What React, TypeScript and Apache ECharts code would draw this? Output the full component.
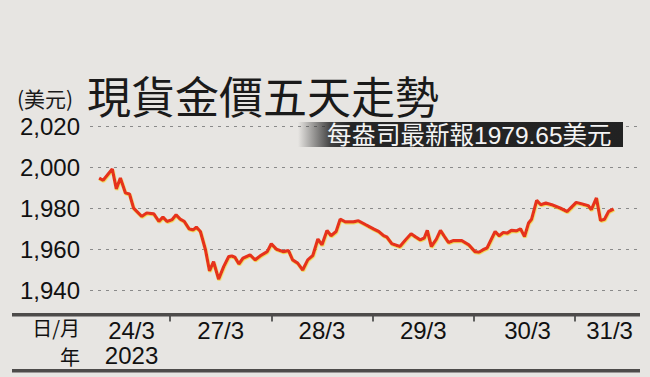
import React, { useEffect, useRef } from 'react';
import * as echarts from 'echarts';

// trading-day offsets (1 = start of 27/3) and spot gold prices (USD/oz)
const dayOffsets = [
  0.30, 0.34, 0.43, 0.47, 0.51, 0.56, 0.60, 0.64, 0.72, 0.77,
  0.84, 0.89, 0.93, 0.97, 1.02, 1.06, 1.10, 1.14, 1.19, 1.23,
  1.26, 1.30, 1.35, 1.39, 1.43, 1.48, 1.53, 1.58, 1.61, 1.64,
  1.68, 1.72, 1.79, 1.84, 1.89, 1.96, 2.00, 2.05, 2.12, 2.17,
  2.21, 2.26, 2.31, 2.36, 2.41, 2.46, 2.50, 2.55, 2.59, 2.64,
  2.68, 2.73, 2.81, 2.86, 2.93, 3.01, 3.06, 3.11, 3.14, 3.19,
  3.27, 3.32, 3.38, 3.42, 3.47, 3.51, 3.54, 3.58, 3.63, 3.67,
  3.71, 3.75, 3.80, 3.88, 3.95, 4.01, 4.05, 4.09, 4.13, 4.21,
  4.25, 4.29, 4.33, 4.37, 4.42, 4.46, 4.50, 4.54, 4.57, 4.62,
  4.66, 4.71, 4.77, 4.85, 4.92, 5.01, 5.06, 5.13, 5.16, 5.21,
  5.25, 5.29, 5.33, 5.38,
];
const prices = [
  1994.7, 1993.6, 1999.1, 1989.4, 1994.7, 1987.4, 1986.9, 1980.1, 1976.0, 1977.7,
  1977.3, 1973.6, 1975.7, 1973.6, 1974.4, 1976.8, 1974.7, 1973.6, 1969.9, 1969.5,
  1970.8, 1968.7, 1959.8, 1949.5, 1954.0, 1945.5, 1951.6, 1956.5, 1956.8, 1956.2,
  1952.9, 1955.7, 1957.3, 1954.9, 1956.8, 1958.9, 1962.7, 1960.1, 1958.9, 1959.4,
  1954.9, 1953.3, 1950.0, 1954.9, 1957.0, 1965.0, 1962.2, 1969.2, 1966.6, 1968.7,
  1974.7, 1973.4, 1973.4, 1973.9, 1972.0, 1969.9, 1968.7, 1966.6, 1966.0, 1962.7,
  1961.4, 1964.3, 1967.6, 1966.2, 1964.6, 1965.5, 1969.2, 1961.4, 1965.0, 1969.2,
  1966.2, 1963.3, 1964.3, 1964.3, 1962.2, 1958.9, 1958.6, 1959.8, 1960.7, 1968.7,
  1966.6, 1968.2, 1967.9, 1969.2, 1969.0, 1970.0, 1966.2, 1972.8, 1974.7, 1983.8,
  1981.7, 1982.5, 1981.7, 1980.1, 1978.4, 1982.8, 1982.2, 1981.2, 1979.3, 1985.0,
  1974.0, 1974.7, 1978.4, 1979.65,
];
const dayLabels = ['24/3\n2023', '27/3', '28/3', '29/3', '30/3', '31/3'];
const dayLabelPositions = [0.62, 1.5, 2.5, 3.5, 4.53, 5.34];
const dayBoundaries = [1, 2, 3, 4, 5];
const yMin = 1940;
const yMax = 2020;
const yStep = 20;
const titleText = '現貨金價五天走勢';
const unitText = '(美元)';
const latestText = '每盎司最新報1979.65美元';
const dateAxisNameTop = '日/月';
const dateAxisNameBottom = '年';

const FONT = '"Liberation Sans", "Noto Sans CJK TC", sans-serif';
const CJK = '"Noto Sans CJK TC", "Liberation Sans", sans-serif';

export default function App() {
  const ref = useRef<HTMLDivElement>(null);
  useEffect(() => {
    document.body.style.margin = '0';
    const chart = echarts.init(ref.current as HTMLDivElement, null, { renderer: 'svg' });
    chart.setOption({
      animation: false,
      backgroundColor: '#e7e5e2',
      grid: { left: 90, right: 10, top: 126, bottom: 86.5 },
      xAxis: {
        type: 'value',
        min: 0.21,
        max: 5.64,
        offset: 24,
        splitLine: { show: false },
        axisLine: { show: false },
        axisTick: {
          show: true,
          customValues: dayBoundaries,
          length: 7,
          lineStyle: { color: '#333', width: 1.5 },
        },
        axisLabel: {
          customValues: dayLabelPositions,
          formatter: (v: number) => {
            let best = 0;
            dayLabelPositions.forEach((p, i) => {
              if (Math.abs(p - v) < Math.abs(dayLabelPositions[best] - v)) best = i;
            });
            return dayLabels[best];
          },
          margin: 3,
          fontSize: 24,
          lineHeight: 25,
          color: '#111',
          fontFamily: FONT,
          verticalAlign: 'top',
        },
      },
      yAxis: {
        type: 'value',
        min: yMin,
        max: yMax,
        interval: yStep,
        axisLine: { show: false },
        axisTick: { show: false },
        splitLine: { lineStyle: { type: [3, 5], color: '#8a8a8a', width: 1.2 } },
        axisLabel: {
          formatter: (v: number) => v.toLocaleString('en-US'),
          fontSize: 24,
          margin: 10,
          color: '#111',
          fontFamily: FONT,
        },
      },
      series: [
        {
          type: 'line',
          data: dayOffsets.map((d, i) => [d, prices[i]]),
          showSymbol: false,
          z: 5,
          lineStyle: {
            color: '#e6311f',
            width: 3.2,
            shadowColor: 'rgba(245,210,0,0.6)',
            shadowOffsetX: 0.5,
            shadowOffsetY: 1,
            shadowBlur: 0,
          },
        },
      ],
      graphic: [
        { type: 'rect', z: 50, shape: { x: 12, y: 313, width: 628, height: 3.5 }, style: { fill: '#4d4b4a' } },
        { type: 'rect', z: 50, shape: { x: 12, y: 369, width: 628, height: 3.5 }, style: { fill: '#4d4b4a' } },
        {
          type: 'text', z: 50, x: 80, y: 327,
          style: { text: dateAxisNameTop, textAlign: 'right', textVerticalAlign: 'middle', fontSize: 20, lineHeight: 20, fill: '#111', fontFamily: CJK },
        },
        {
          type: 'text', z: 50, x: 80, y: 356,
          style: { text: dateAxisNameBottom, textAlign: 'right', textVerticalAlign: 'middle', fontSize: 20, lineHeight: 20, fill: '#111', fontFamily: CJK },
        },
        {
          type: 'text', z: 50, x: 87, y: 95,
          style: { text: titleText, textAlign: 'left', textVerticalAlign: 'middle', fontSize: 44, fill: '#1a1a1a', fontFamily: CJK },
        },
        {
          type: 'text', z: 50, x: 17, y: 98,
          style: { text: unitText, textAlign: 'left', textVerticalAlign: 'middle', fontSize: 21, lineHeight: 21, fill: '#1a1a1a', fontFamily: CJK },
        },
        {
          type: 'rect', z: 60, shape: { x: 298, y: 122, width: 325, height: 25 },
          style: {
            fill: new echarts.graphic.LinearGradient(0, 0, 1, 0, [
              { offset: 0, color: 'rgba(38,38,38,0)' },
              { offset: 0.1, color: 'rgba(38,38,38,0.85)' },
              { offset: 0.16, color: '#262626' },
              { offset: 1, color: '#222' },
            ]),
          },
        },
        {
          type: 'text', z: 61, x: 327, y: 135,
          style: { text: latestText, textAlign: 'left', textVerticalAlign: 'middle', fontSize: 24.5, fill: '#f4f4f4', fontFamily: FONT },
        },
      ],
    });
    return () => chart.dispose();
  }, []);
  return <div ref={ref} style={{ position: 'absolute', left: 0, top: 0, width: 650, height: 377 }} />;
}
